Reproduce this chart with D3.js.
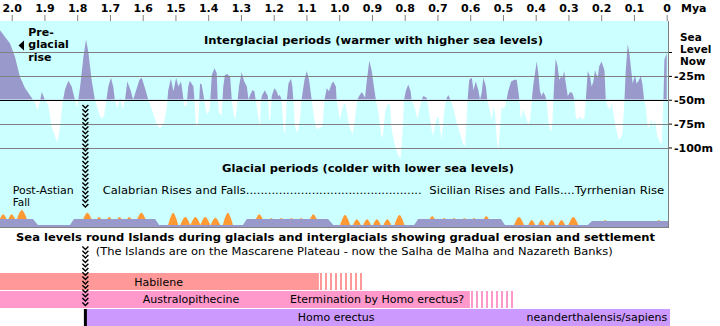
<!DOCTYPE html>
<html><head><meta charset="utf-8">
<script src="https://cdn.jsdelivr.net/npm/d3@7"></script>
<style>
html,body{margin:0;padding:0;background:#fff;}
svg{display:block;font-family:"DejaVu Sans",Verdana,sans-serif;}
</style></head><body>
<svg id="c" width="720" height="326"></svg>
<script>
// ---------- DATA ----------
const seaMya = [2.036,2.005,1.990,1.975,1.959,1.939,1.929,1.921,1.914,1.908,1.900,1.888,1.878,1.868,1.861,1.853,1.845,1.837,1.827,1.817,1.807,1.800,1.791,1.781,1.773,1.766,1.756,1.746,1.738,1.727,1.718,1.712,1.705,1.697,1.690,1.685,1.677,1.669,1.661,1.654,1.647,1.637,1.629,1.620,1.610,1.603,1.591,1.583,1.570,1.557,1.547,1.535,1.527,1.522,1.514,1.506,1.498,1.491,1.483,1.478,1.473,1.466,1.461,1.456,1.445,1.442,1.438,1.435,1.430,1.425,1.420,1.412,1.408,1.402,1.395,1.389,1.381,1.374,1.371,1.367,1.359,1.354,1.349,1.342,1.333,1.328,1.323,1.318,1.313,1.306,1.298,1.290,1.282,1.277,1.272,1.265,1.259,1.255,1.249,1.242,1.239,1.235,1.227,1.218,1.214,1.211,1.206,1.198,1.191,1.186,1.181,1.176,1.170,1.165,1.160,1.155,1.147,1.143,1.140,1.135,1.127,1.120,1.115,1.106,1.099,1.092,1.084,1.076,1.069,1.058,1.051,1.045,1.038,1.031,1.023,1.018,1.010,1.008,1.003,0.998,0.989,0.982,0.977,0.969,0.959,0.952,0.945,0.939,0.931,0.921,0.916,0.908,0.901,0.894,0.888,0.880,0.873,0.867,0.860,0.853,0.845,0.840,0.830,0.819,0.812,0.806,0.802,0.796,0.789,0.782,0.779,0.768,0.761,0.753,0.748,0.743,0.733,0.728,0.718,0.713,0.704,0.697,0.692,0.687,0.680,0.674,0.667,0.660,0.651,0.641,0.629,0.621,0.616,0.611,0.608,0.603,0.595,0.590,0.583,0.575,0.570,0.565,0.560,0.552,0.548,0.541,0.534,0.529,0.524,0.519,0.514,0.509,0.504,0.499,0.494,0.489,0.484,0.475,0.465,0.458,0.453,0.450,0.445,0.438,0.431,0.423,0.417,0.412,0.407,0.402,0.397,0.392,0.387,0.382,0.377,0.372,0.367,0.361,0.356,0.353,0.349,0.346,0.343,0.339,0.333,0.328,0.323,0.318,0.313,0.308,0.302,0.295,0.288,0.282,0.278,0.272,0.265,0.258,0.251,0.247,0.241,0.234,0.229,0.224,0.219,0.211,0.206,0.199,0.190,0.186,0.180,0.173,0.168,0.163,0.156,0.148,0.143,0.135,0.129,0.125,0.119,0.114,0.109,0.104,0.097,0.092,0.087,0.079,0.074,0.069,0.064,0.058,0.054,0.048,0.041,0.036,0.029,0.020,0.015,0.010,0.007,0.000];
const seaLevel = [23,9,-5,-26,-38,-48,-53,-61,-52,-42,-49,-56,-78,-88,-95,-81,-53,-39,-30,-36,-50,-58,-36,-5,13,0,-29,-50,-59,-70,-67,-53,-36,-27,-36,-50,-59,-48,-60,-50,-31,-40,-50,-40,-29,-27,-40,-50,-62,-76,-80,-74,-60,-40,-28,-41,-27,-36,-31,-43,-57,-56,-36,-30,-36,-50,-74,-79,-71,-33,-34,-50,-60,-66,-59,-24,-17,-22,-50,-64,-66,-36,-24,-23,-26,-50,-64,-71,-60,-36,-21,-31,-36,-50,-45,-40,-41,-50,-64,-78,-50,-45,-40,-46,-71,-72,-46,-38,-41,-46,-45,-50,-81,-86,-50,-33,-28,-36,-50,-78,-85,-71,-50,-29,-20,-29,-50,-71,-81,-79,-78,-50,-38,-41,-33,-31,-36,-50,-60,-71,-57,-53,-62,-78,-86,-71,-50,-46,-42,-48,-31,-9,-19,-36,-50,-64,-85,-90,-64,-55,-55,-81,-98,-109,-111,-81,-50,-40,-34,-41,-50,-60,-71,-57,-50,-46,-48,-57,-81,-88,-71,-67,-81,-92,-64,-50,-45,-50,-60,-74,-88,-97,-98,-71,-50,-29,-27,-40,-31,-40,-50,-43,-27,-36,-50,-60,-71,-57,-64,-92,-102,-81,-57,-60,-57,-50,-41,-31,-29,-29,-41,-50,-71,-60,-67,-76,-71,-50,-33,-22,-10,-22,-41,-46,-42,-45,-50,-74,-81,-84,-74,-50,-29,-7,-15,-29,-26,-27,-20,-33,-46,-42,-43,-50,-67,-72,-67,-71,-69,-50,-20,-26,-36,-31,-19,-27,-15,-10,-19,-50,-57,-60,-53,-64,-78,-90,-92,-85,-50,-19,8,-1,-17,-33,-24,-33,-31,-25,-34,-50,-57,-78,-79,-71,-78,-71,-88,-95,-96,-50,-8,-1];

const tickMya = [2.0,1.9,1.8,1.7,1.6,1.5,1.4,1.3,1.2,1.1,1.0,0.9,0.8,0.7,0.6,0.5,0.4,0.3,0.2,0.1,0];
const tickLabels = ["2.0","1.9","1.8","1.7","1.6","1.5","1.4","1.3","1.2","1.1","1.0","0.9","0.8","0.7","0.6","0.5","0.4","0.3","0.2","0.1","0"];
const levelTicks = [0,-25,-50,-75,-100];
const levelLabels = ["","-25m","-50m","-75m","-100m"];
const nowLabel = ["Sea","Level","Now"];

// island profile (arbitrary elevation units) and island peaks
const islandMya = [2.04,1.935,1.920,1.822,1.810,1.562,1.550,1.294,1.282,1.034,1.018,0.771,0.759,0.506,0.494,0.241,0.228,-0.01];
const islandLevel = [8,8,2,2,8,8,2,2,8,8,2,2,8,8,2,2,6,6];
const peakMya = [2.026,2.000,1.969,1.769,1.733,1.702,1.671,1.641,1.604,1.507,1.470,1.439,1.409,1.378,1.340,1.244,1.207,1.177,1.146,1.116,1.079,0.982,0.946,0.915,0.885,0.853,0.816,0.716,0.679,0.649,0.618,0.588,0.551,0.451,0.412,0.382,0.351,0.321,0.285,0.188,0.024];
const peakTop = [12.7,12.7,17,14.3,10,10,10,10,14.3,14.3,10,10,10,9.3,14.3,12.7,9,9,9,9,12.7,12,7.7,7.7,7.7,7.7,12,11,9,9,9,9,11,10,7,7,7,7,10,7,7];

const hominidNames = ["Habilene","Australopithecine","Homo erectus"];
const hominidFrom = [2.04,2.04,1.775];
const hominidTo = [1.062,0.601,-0.01];
const hominidFadeTo = [0.924,0.463,null];
const hominidColors = ["#ff9999","#ff99cc","#cc99ff"];
const erectusStart = 1.775;

const titleText = "Sea levels round Islands during glacials and interglacials showing gradual erosian and settlement";
const subtitleText = "(The Islands are on the Mascarene Plateau - now the Salha de Malha and Nazareth Banks)";

// ---------- LAYOUT ----------
const plotL = 0, plotR = 668, plotT = 21, plotB = 227;
const svg = d3.select("#c");
const x = d3.scaleLinear().domain([2.0,0]).range([11.7,666.7]);
const y = d3.scaleLinear().domain([0,-100]).range([52,147.5]);
const yi = d3.scaleLinear().domain([0,17]).range([227,210]);
const seaData = seaMya.map((m,i)=>[m,seaLevel[i]]);
const y50 = y(-50);

const defs = svg.append("defs");
defs.append("clipPath").attr("id","plot").append("rect").attr("x",plotL).attr("y",plotT).attr("width",plotR-plotL).attr("height",plotB-plotT);
defs.append("clipPath").attr("id","above").append("rect").attr("x",plotL).attr("y",plotT).attr("width",plotR-plotL).attr("height",y50-plotT);
defs.append("clipPath").attr("id","below").append("rect").attr("x",plotL).attr("y",y50).attr("width",plotR-plotL).attr("height",plotB-y50);

svg.append("rect").attr("x",plotL).attr("y",plotT).attr("width",plotR-plotL).attr("height",plotB-plotT).attr("fill","#ccffff");

const area = d3.area().x(d=>x(d[0])).y0(y50).y1(d=>y(d[1]));
svg.append("g").attr("clip-path","url(#above)").append("path").attr("d",area(seaData)).attr("fill","#9999cc");
svg.append("g").attr("clip-path","url(#below)").append("path").attr("d",area(seaData)).attr("fill","#ffffff");

// grid lines
svg.append("g").selectAll("line").data(levelTicks).join("line")
  .attr("x1",plotL).attr("x2",plotR)
  .attr("y1",d=>Math.round(y(d))+0.5).attr("y2",d=>Math.round(y(d))+0.5)
  .attr("stroke",d=>d===-50?"#000":"#808080").attr("stroke-width",1);

// island strip
const gi = svg.append("g").attr("clip-path","url(#plot)");
const islandData = islandMya.map((m,i)=>[m,islandLevel[i]]);
gi.append("path").attr("d",d3.area().x(d=>x(d[0])).y0(yi(0)).y1(d=>yi(d[1]))(islandData)).attr("fill","#9999cc");
const baseAt = d3.scaleLinear().domain(islandMya).range(islandLevel);
const peakLine = d3.line().curve(d3.curveMonotoneX);
peakMya.forEach((m,i)=>{
  const cx = x(m), b = baseAt(m), h = peakTop[i]-b;
  const hw = Math.min(5, 1+0.5*h);
  const pts = [[cx-hw,yi(b)],[cx-hw*0.55,yi(b+0.6*h)],[cx,yi(peakTop[i])],[cx+hw*0.55,yi(b+0.6*h)],[cx+hw,yi(b)]];
  gi.append("path").attr("d",peakLine(pts)+"Z").attr("fill","#ff9933");
});

// borders
svg.append("line").attr("x1",plotR+0.5).attr("x2",plotR+0.5).attr("y1",plotT).attr("y2",plotB+1).attr("stroke","#808080");
svg.append("line").attr("x1",0).attr("x2",plotR+1).attr("y1",plotB+0.5).attr("y2",plotB+0.5).attr("stroke","#808080");

// top axis
const ax = svg.append("g").attr("transform",`translate(0,${plotT})`)
  .call(d3.axisTop(x).tickValues(tickMya).tickFormat((d,i)=>tickLabels[i]).tickSize(6).tickPadding(3));
ax.select(".domain").remove();
ax.selectAll(".tick line").attr("stroke","#808080");
ax.selectAll(".tick text").attr("font-size",11).attr("font-weight","bold").attr("fill","#000").attr("font-family","DejaVu Sans");
svg.append("text").attr("x",681).attr("y",12).attr("font-size",11).attr("font-weight","bold").text("Mya");

// right axis
const ay = svg.append("g").attr("transform",`translate(669,0)`)
  .call(d3.axisRight(y).tickValues(levelTicks).tickFormat((d,i)=>levelLabels[i]).tickSize(3).tickPadding(2));
ay.select(".domain").remove();
ay.selectAll(".tick line").attr("stroke","#000");
ay.selectAll(".tick text").attr("font-size",11).attr("font-weight","bold").attr("fill","#000").attr("font-family","DejaVu Sans");
const nowT = svg.append("text").attr("font-size",10.5).attr("font-weight","bold");
nowLabel.forEach((t,i)=>nowT.append("tspan").attr("x",680).attr("y",[40.5,52.8,65][i]).text(t));

// texts
function txt(s,xp,yp,opt={}) {
  const t = svg.append("text").attr("x",xp).attr("y",yp).attr("font-size",opt.size||11)
    .attr("font-weight",opt.bold?"bold":"normal").text(s);
  if (opt.anchor) t.attr("text-anchor",opt.anchor);
  if (opt.w) t.attr("textLength",opt.w).attr("lengthAdjust","spacingAndGlyphs");
  return t;
}
txt("Interglacial periods (warmer with higher sea levels)",204,43.5,{bold:true,w:339});
txt("Glacial periods (colder with lower sea levels)",222,172.3,{bold:true,w:292});
["Pre-","glacial","rise"].forEach((s,i)=>txt(s,28.3,[35.7,48.3,61][i],{bold:true}));
svg.append("path").attr("d","M18.5,45.5L24,40.5L24,50.5Z").attr("fill","#000");
txt("Post-Astian",12.7,193.8,{size:10.5,w:61});
txt("Fall",12.7,206.3,{size:10.5});
txt("Calabrian Rises and Falls"+".".repeat(48),102.7,194.3,{w:319});
txt("Sicilian Rises and Falls....Tyrrhenian Rise",429.3,194.3,{w:235});
txt(titleText,16,240.7,{bold:true,w:639});
txt(subtitleText,95.7,255,{w:517});

// hominid bars
const rowY = [273,291,309], rowH = 17;
hominidNames.forEach((n,i)=>{
  const x0 = Math.max(0,x(hominidFrom[i])), x1 = x(hominidTo[i]);
  svg.append("rect").attr("x",x0).attr("y",rowY[i]).attr("width",x1-x0).attr("height",rowH).attr("fill",hominidColors[i]);
  if (hominidFadeTo[i]!==null) {
    const xf = x(hominidFadeTo[i]);
    svg.append("g").selectAll("rect").data(d3.range(Math.round(x1)+1, xf, 5)).join("rect")
      .attr("x",d=>d).attr("y",rowY[i]).attr("width",2).attr("height",rowH).attr("fill",hominidColors[i]);
  }
});
svg.append("rect").attr("x",x(erectusStart)-1.5).attr("y",rowY[2]).attr("width",3).attr("height",rowH).attr("fill","#000");
txt("Habilene",134.3,285.5);
txt("Australopithecine",142.7,303);
txt("Etermination by Homo erectus?",290,303);
txt("Homo erectus",297.7,321);
txt("neanderthalensis/sapiens",667.3,321,{anchor:"end"});

// chevrons marking start of Homo erectus
const cx = x(erectusStart);
const chevY = d3.range(105,208,4.3).concat(d3.range(246.5,306,4.3));
svg.append("g").selectAll("path").data(chevY).join("path")
  .attr("d",d=>`M${cx-3},${d}L${cx},${d+3}L${cx+3},${d}`)
  .attr("fill","none").attr("stroke","#000").attr("stroke-width",1.4);
</script>
</body></html>
